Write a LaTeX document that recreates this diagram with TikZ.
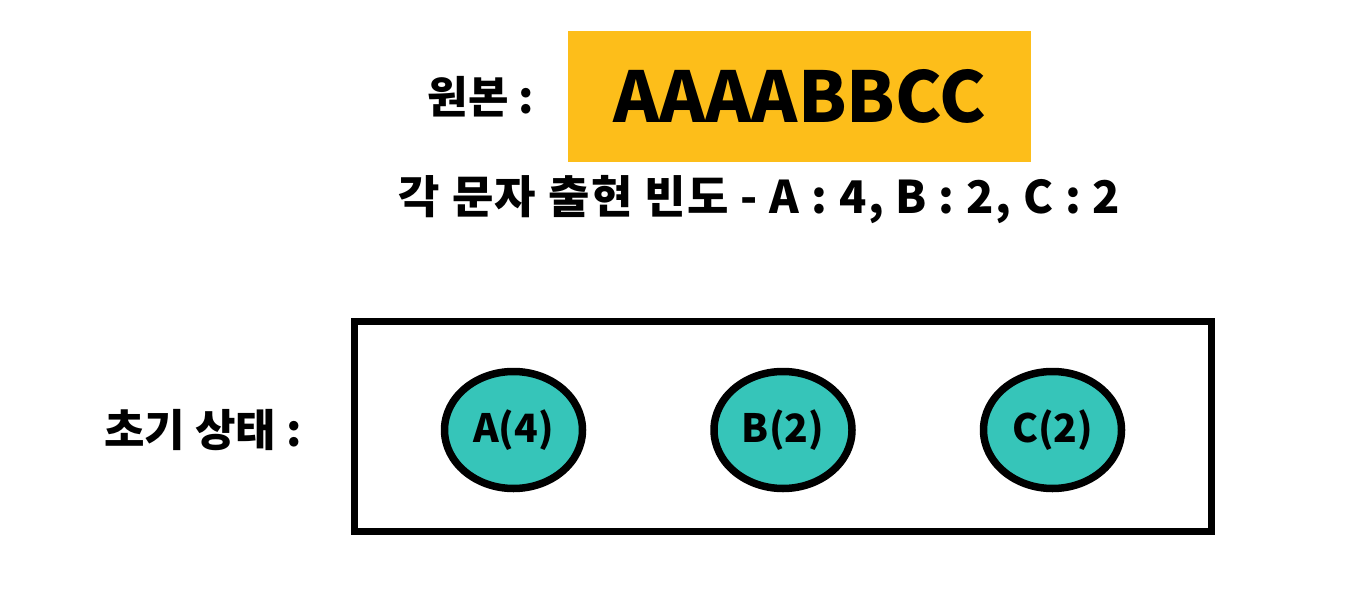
\documentclass[tikz,border=0pt]{standalone}
\usepackage{fontspec}
\setmainfont{Noto Sans CJK KR}
\usepackage{tikz}
\usetikzlibrary{shapes}
\definecolor{origyellow}{HTML}{FDBE1A}
\definecolor{nodeteal}{HTML}{36C5B9}
\tikzstyle{label text}=[font=\fontsize{44}{50}\selectfont\bfseries, inner sep=0pt]
\tikzstyle{source box}=[rectangle, fill=origyellow
,minimum width=463pt
,minimum height=131pt
,inner sep=0pt
,font=\fontsize{70}{80}\selectfont\bfseries
]
\tikzstyle{state box}=[rectangle, draw, line width=7.5pt
,minimum width=857pt
,minimum height=210pt
]
\tikzstyle{freq node}=[ellipse, draw, line width=7.5pt, fill=nodeteal
,minimum width=138pt
,minimum height=117pt
,inner sep=0pt
,font=\fontsize{39}{44}\selectfont\bfseries
]

\begin{document}
\begin{tikzpicture}[x=1pt,y=-1pt]
    \useasboundingbox (0,0) rectangle (1370,594);
    % The original string and its frequencies
    \node[source box] (src) at (799.5,96.5) {AAAABBCC};
    \node[label text] (srclabel) at (481,97) {원본 :};
    \node[label text, font=\fontsize{45}{50}\selectfont\bfseries\addfontfeature{LetterSpace=3.5}] (freq) at (759.5,200) {각 문자 출현 빈도 - A : 4, B : 2, C : 2};

    % Initial state: one node per character
    \node[state box] (state) at (783,426.5) {};
    \node[label text] (statelabel) at (203,430) {초기 상태 :};
    \foreach \pos/\name/\text in {{(513.5,430)/A/A(4)}, {(783,430)/B/B(2)}, {(1052.5,430)/C/C(2)}}
        \node[freq node] (\name) at \pos {\text};

\end{tikzpicture}
\end{document}
